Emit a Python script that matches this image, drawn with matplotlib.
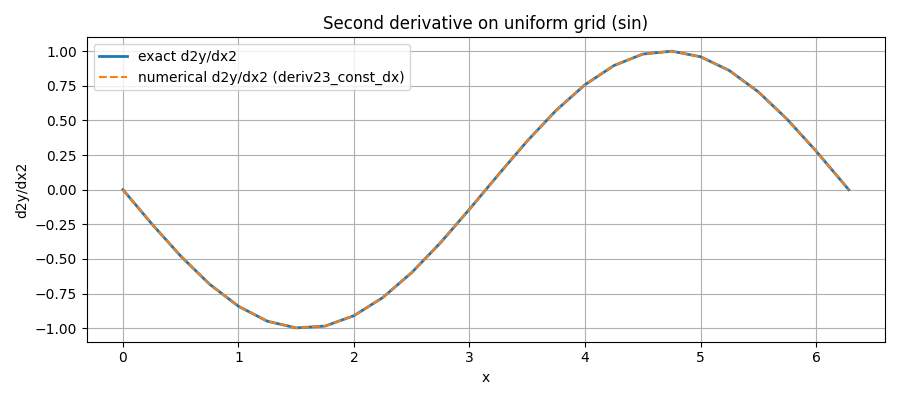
import matplotlib
matplotlib.use("Agg")
import matplotlib.pyplot as plt

# values
x = [0.0, 0.25, 0.5, 0.75, 1.0, 1.25, 1.5, 1.75, 2.0, 2.25, 2.5, 2.75, 3.0,
     3.25, 3.5, 3.75, 4.0, 4.25, 4.5, 4.75, 5.0, 5.25, 5.5, 5.75, 6.0, 6.283]
exact = [0.0, -0.247, -0.479, -0.682, -0.841, -0.949, -0.997, -0.984, -0.909,
         -0.778, -0.598, -0.382, -0.141, 0.108, 0.351, 0.572, 0.757, 0.895,
         0.978, 0.999, 0.959, 0.859, 0.706, 0.508, 0.279, 0.0]
numerical = [0.0, -0.247, -0.479, -0.682, -0.841, -0.949, -0.997, -0.984, -0.909,
             -0.778, -0.598, -0.382, -0.141, 0.108, 0.351, 0.572, 0.757, 0.895,
             0.978, 0.999, 0.959, 0.859, 0.706, 0.508, 0.279, 0.0]

fig, ax = plt.subplots(figsize=(9, 4), dpi=100)
ax.plot(x, exact, color='#1f77b4', linewidth=2, label='exact d2y/dx2')
ax.plot(x, numerical, color='#ff7f0e', linestyle='--', linewidth=1.5,
        label='numerical d2y/dx2 (deriv23_const_dx)')
ax.set_title('Second derivative on uniform grid (sin)')
ax.set_xlabel('x')
ax.set_ylabel('d2y/dx2')
ax.grid(True)
ax.legend(loc='upper left')
fig.tight_layout()
fig.savefig('out.png')
